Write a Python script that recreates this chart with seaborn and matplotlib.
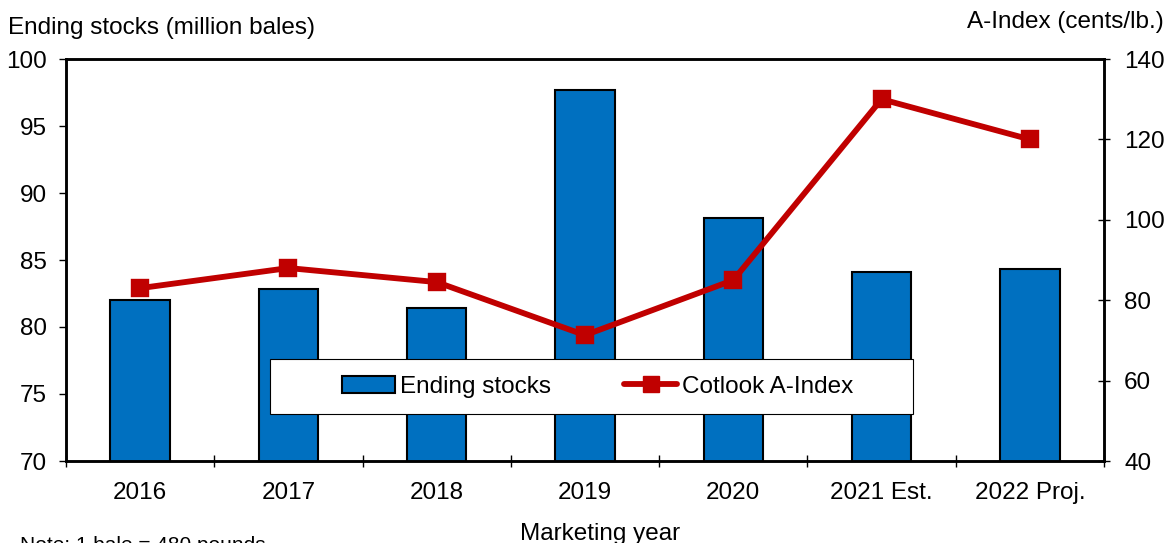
import numpy as np
import seaborn as sns
import matplotlib.pyplot as plt
from matplotlib.patches import Patch, Rectangle
from matplotlib.lines import Line2D

# marketing years, ending stocks (million bales) and A-Index (cents/lb.)
years = ['2016', '2017', '2018', '2019', '2020', '2021 Est.', '2022 Proj.']
ending_stocks = [82.0, 82.8, 81.4, 97.7, 88.1, 84.1, 84.3]
a_index = [83.0, 88.0, 84.5, 71.3, 85.0, 130.0, 120.0]

bar_color = '#0070C0'
line_color = '#C00000'
fs = 17.5

sns.set_style('white')
plt.rcParams['font.family'] = ['Liberation Sans', 'DejaVu Sans']
plt.rcParams['text.color'] = 'black'
plt.rcParams['xtick.color'] = 'black'
plt.rcParams['ytick.color'] = 'black'
plt.rcParams['axes.labelcolor'] = 'black'

fig = plt.figure(figsize=(11.67, 5.43), dpi=100)
ax1 = fig.add_axes([66 / 1167, 82 / 543, 1038 / 1167, 402 / 543])
ax2 = ax1.twinx()

sns.barplot(x=years, y=ending_stocks, ax=ax1, color=bar_color, saturation=1,
            edgecolor='black', linewidth=1.5, width=0.4)
sns.pointplot(x=years, y=a_index, ax=ax2, color=line_color, marker='s',
              markersize=10.5, linewidth=4.2, errorbar=None)

ax1.set_ylim(70, 100)
ax1.set_yticks(np.arange(70, 101, 5))
ax2.set_ylim(40, 140)
ax2.set_yticks(np.arange(40, 141, 20))
ax1.set_xlim(-0.5, 6.5)
ax1.set_xticks(range(len(years)))
ax1.set_xticklabels(years)
ax1.set_xticks(np.arange(-0.5, 7, 1), minor=True)
ax1.set_xlabel('')
ax1.set_ylabel('')
ax2.set_ylabel('')

for ax in (ax1, ax2):
    for s in ax.spines.values():
        s.set_linewidth(1.8)
        s.set_color('black')

ax1.tick_params(axis='x', which='major', length=0, pad=15, labelsize=fs)
ax1.tick_params(axis='x', which='minor', direction='inout', length=8, width=1, bottom=True)
ax1.tick_params(axis='y', direction='out', length=5, width=1, pad=9, labelsize=fs, left=True)
ax2.tick_params(axis='y', direction='inout', length=9, width=1, pad=10, labelsize=fs, right=True)

# legend box
ax2.add_patch(Rectangle((0.1965, 0.117), 0.6195, 0.137, transform=ax2.transAxes,
                        facecolor='white', edgecolor='black', lw=0.8, zorder=4))
handles = [Patch(facecolor=bar_color, edgecolor='black', linewidth=1.5),
           Line2D([], [], color=line_color, lw=4.2, marker='s', markersize=11.5)]
ax2.legend(handles, ['Ending stocks', 'Cotlook A-Index'], loc='center',
           bbox_to_anchor=(0.512, 0.185), ncol=2, frameon=False, fontsize=fs,
           handlelength=2.2, handletextpad=0.2, columnspacing=3.0, numpoints=1)

fig.text(8 / 1167, 1 - 28 / 543, 'Ending stocks (million bales)', fontsize=fs, va='center', ha='left')
fig.text(1164 / 1167, 1 - 22 / 543, 'A-Index (cents/lb.)', fontsize=fs, va='center', ha='right')
fig.text(600 / 1167, 1 - 534 / 543, 'Marketing year', fontsize=fs, va='center', ha='center')
fig.text(20 / 1167, 1 - 536 / 543, 'Note: 1 bale = 480 pounds', fontsize=15, va='top', ha='left')

fig.savefig('out.png', dpi=100)
